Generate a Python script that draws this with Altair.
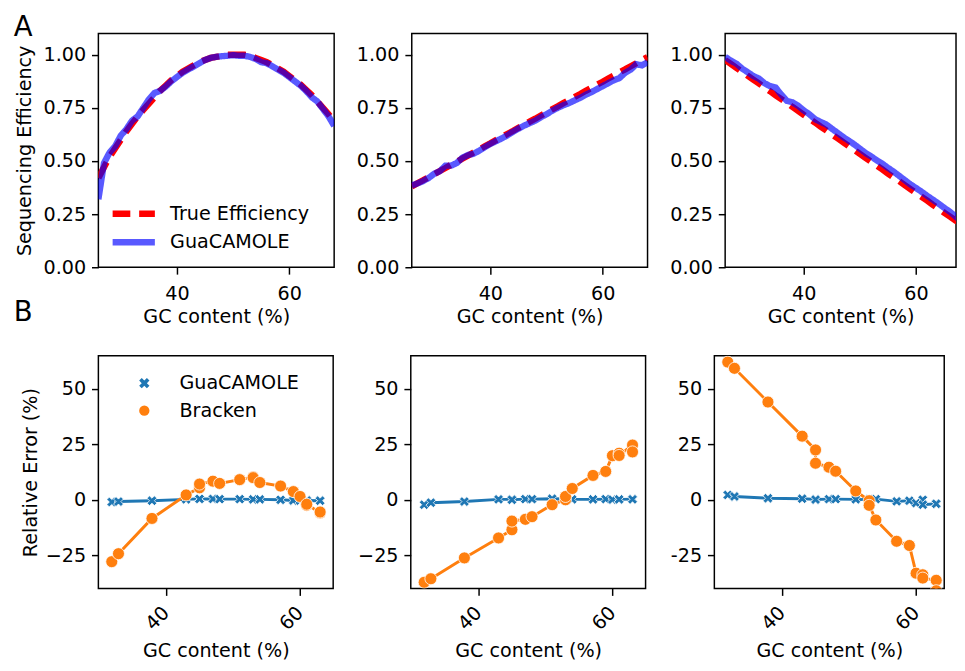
import altair as alt
import pandas as pd

FONT = "DejaVu Sans"
FS = 19.5

# ---------------- Panel A data (sequencing efficiency) ----------------
gc_top = list(range(26, 69))

true_a1 = [0.42, 0.47, 0.52, 0.56, 0.60, 0.64, 0.675, 0.71, 0.74, 0.77, 0.80, 0.83, 0.855, 0.88, 0.90,
           0.92, 0.935, 0.95, 0.965, 0.975, 0.985, 0.99, 0.995, 1.0, 1.0, 1.0, 1.0, 0.995, 0.985, 0.975,
           0.965, 0.95, 0.935, 0.92, 0.90, 0.88, 0.86, 0.835, 0.81, 0.78, 0.75, 0.72, 0.685]
guac_a1 = [0.32, 0.49, 0.54, 0.57, 0.62, 0.65, 0.69, 0.71, 0.75, 0.79, 0.82, 0.83, 0.85, 0.875, 0.895,
           0.915, 0.93, 0.945, 0.96, 0.975, 0.985, 0.99, 0.993, 0.995, 0.998, 0.995, 0.995, 0.99, 0.98, 0.965,
           0.96, 0.945, 0.93, 0.915, 0.895, 0.875, 0.855, 0.83, 0.80, 0.78, 0.745, 0.71, 0.665]

true_a2 = [0.380, 0.395, 0.409, 0.424, 0.438, 0.453, 0.467, 0.482, 0.496, 0.511, 0.525, 0.540, 0.554, 0.569,
           0.583, 0.598, 0.612, 0.627, 0.641, 0.656, 0.670, 0.685, 0.699, 0.714, 0.728, 0.743, 0.757, 0.772,
           0.786, 0.801, 0.815, 0.830, 0.844, 0.859, 0.873, 0.888, 0.902, 0.917, 0.931, 0.946, 0.960, 0.975, 0.989]
guac_a2 = [0.385, 0.394, 0.405, 0.420, 0.440, 0.452, 0.478, 0.478, 0.490, 0.515, 0.528, 0.534, 0.548, 0.565,
           0.580, 0.593, 0.606, 0.620, 0.637, 0.652, 0.666, 0.678, 0.690, 0.706, 0.720, 0.736, 0.750, 0.762,
           0.772, 0.785, 0.797, 0.812, 0.824, 0.838, 0.852, 0.866, 0.880, 0.890, 0.915, 0.930, 0.955, 0.950, 0.965]

true_a3 = [0.975, 0.957, 0.938, 0.920, 0.901, 0.883, 0.865, 0.846, 0.828, 0.809, 0.791, 0.773, 0.754, 0.736,
           0.717, 0.699, 0.681, 0.662, 0.644, 0.625, 0.607, 0.589, 0.570, 0.552, 0.533, 0.515, 0.497, 0.478,
           0.460, 0.441, 0.423, 0.405, 0.386, 0.368, 0.349, 0.331, 0.313, 0.294, 0.276, 0.257, 0.239, 0.221, 0.202]
guac_a3 = [0.990, 0.972, 0.958, 0.935, 0.918, 0.900, 0.888, 0.866, 0.852, 0.845, 0.812, 0.783, 0.776, 0.760,
           0.738, 0.720, 0.697, 0.684, 0.672, 0.652, 0.633, 0.613, 0.596, 0.578, 0.558, 0.538, 0.522, 0.503,
           0.487, 0.468, 0.450, 0.430, 0.410, 0.390, 0.373, 0.355, 0.336, 0.318, 0.300, 0.280, 0.262, 0.240, 0.218]

# ---------------- Panel B data (relative error) ----------------
gc_bot = [31.9, 32.9, 37.9, 43.0, 45.0, 45.0, 47.0, 48.0, 51.0, 53.0, 53.0, 54.0, 57.1, 59.0, 60.0, 61.0, 61.0, 63.0, 63.0]

brack_b1 = [-27.9, -24.3, -8.4, 2.2, 5.4, 7.1, 8.4, 7.4, 9.1, 10.3, 10.0, 7.8, 6.2, 3.7, 1.5, -2.5, -2.0, -5.9, -5.5]
guac_b1 = [-1.0, -0.8, -0.4, 0.2, 0.5, 0.4, 0.4, 0.3, 0.3, 0.2, 0.2, 0.2, 0.0, -0.3, -0.3, -0.4, -0.3, -0.4, -0.4]

brack_b2 = [-37.2, -35.6, -26.2, -17.2, -13.5, -9.6, -8.8, -7.6, -2.2, 0.0, 1.5, 5.1, 11.0, 12.8, 19.9, 21.0, 20.0, 24.7, 21.6]
guac_b2 = [-2.2, -1.3, -0.8, 0.2, 0.2, 0.0, 0.3, 0.3, 0.5, 0.4, 0.2, 0.2, 0.2, 0.3, 0.1, 0.2, 0.2, 0.3, 0.2]

brack_b3 = [62.1, 59.3, 44.1, 28.7, 22.5, 16.5, 14.7, 12.9, 4.0, -0.4, -2.5, -9.1, -18.7, -20.6, -33.1, -33.8, -35.3, -36.3, -41.0]
guac_b3 = [2.2, 1.5, 0.7, 0.5, 0.2, 0.1, 0.3, 0.3, 0.2, 0.0, 0.3, 0.3, -0.7, -0.4, -1.5, 0.0, -2.2, -1.8, -1.8]

SERIES_A = ["True Efficiency", "GuaCAMOLE"]
SERIES_B = ["GuaCAMOLE", "Bracken"]
COLORS_B = ["#1f77b4", "#ff7f0e"]
X_PATH = "M-1,-0.5L-0.5,-1L0,-0.5L0.5,-1L1,-0.5L0.5,0L1,0.5L0.5,1L0,0.5L-0.5,1L-1,0.5L-0.5,0Z"


def top_panel(t, g, width, domain, show_title, show_legend):
    df_t = pd.DataFrame({"gc": gc_top, "eff": t, "series": SERIES_A[0]})
    df_g = pd.DataFrame({"gc": gc_top, "eff": g, "series": SERIES_A[1]})
    xenc = alt.X("gc:Q", scale=alt.Scale(domain=domain, nice=False, zero=False),
                 axis=alt.Axis(values=[40, 60], title="GC content (%)", labelPadding=11, titlePadding=5))
    yenc = alt.Y("eff:Q", scale=alt.Scale(domain=[0, 1.1], nice=False),
                 axis=alt.Axis(values=[0, 0.25, 0.5, 0.75, 1.0], format=".2f",
                               title="Sequencing Efficiency" if show_title else None, titlePadding=9))
    if show_legend:
        leg = alt.Legend(orient="none", legendX=11, legendY=170, title=None, symbolType="stroke",
                         symbolSize=1849, symbolStrokeWidth=6.5, clipHeight=27, rowPadding=2,
                         labelOffset=12, labelFontSize=FS, labelFont=FONT, labelColor="black")
    else:
        leg = None
    color = alt.Color("series:N", scale=alt.Scale(domain=SERIES_A, range=["red", "blue"]), legend=leg)
    dash = alt.StrokeDash("series:N", scale=alt.Scale(domain=SERIES_A, range=[[18, 9], [1, 0]]), legend=leg)
    op = alt.Opacity("series:N", scale=alt.Scale(domain=SERIES_A, range=[1.0, 0.65]), legend=leg)
    red = alt.Chart(df_t).mark_line(strokeWidth=6.5, clip=True).encode(
        x=xenc, y=yenc, color=color, strokeDash=dash, opacity=op)
    blue = alt.Chart(df_g).mark_line(strokeWidth=6.5, clip=True).encode(
        x=xenc, y=yenc, color=color, strokeDash=dash, opacity=op)
    return alt.layer(red, blue).properties(width=width, height=238)


def bottom_panel(g, b, width, domain, show_title, show_legend, hyphen):
    n = len(gc_bot)
    df_g = pd.DataFrame({"gc": gc_bot, "err": g, "method": SERIES_B[0], "idx": list(range(n))})
    df_b = pd.DataFrame({"gc": gc_bot, "err": b, "method": SERIES_B[1], "idx": list(range(n))})
    xenc = alt.X("gc:Q", scale=alt.Scale(domain=domain, nice=False, zero=False),
                 axis=alt.Axis(values=[40, 60], title="GC content (%)", labelAngle=315,
                               labelAlign="center", labelBaseline="middle", labelPadding=23,
                               labelOffset=-9, titlePadding=9))
    yaxis = dict(values=[-25, 0, 25, 50], format="d",
                 title="Relative Error (%)" if show_title else None, titlePadding=5)
    if hyphen:
        yaxis["labelExpr"] = "datum.value < 0 ? '-' + abs(datum.value) : datum.label"
    yenc = alt.Y("err:Q", scale=alt.Scale(domain=[-40, 65], nice=False), axis=alt.Axis(**yaxis))
    if show_legend:
        leg = alt.Legend(orient="none", legendX=37, legendY=15, title=None, symbolSize=110,
                         clipHeight=26, rowPadding=2, labelOffset=26, labelFontSize=FS,
                         labelFont=FONT, labelColor="black", symbolStrokeWidth=0)
    else:
        leg = None
    cscale = alt.Scale(domain=SERIES_B, range=COLORS_B)
    sscale = alt.Scale(domain=SERIES_B, range=[X_PATH, "circle"])
    layers = []
    for df, col, sz in ((df_g, COLORS_B[0], 100), (df_b, COLORS_B[1], 150)):
        line = alt.Chart(df).mark_line(strokeWidth=3, clip=True, color=col).encode(
            x=xenc, y=yenc, order=alt.Order("idx:Q"))
        pts = alt.Chart(df).mark_point(filled=True, size=sz, opacity=1, stroke="white",
                                       strokeWidth=0.8, clip=True).encode(
            x=xenc, y=yenc,
            color=alt.Color("method:N", scale=cscale, legend=leg),
            shape=alt.Shape("method:N", scale=sscale, legend=leg))
        layers += [line, pts]
    return alt.layer(*layers).properties(width=width, height=237)


RES = dict(color="independent", strokeDash="independent", opacity="independent",
           shape="independent")

row1 = alt.hconcat(
    top_panel(true_a1, guac_a1, 240, [26, 68], True, True),
    top_panel(true_a2, guac_a2, 240, [26, 68], False, False),
    top_panel(true_a3, guac_a3, 235, [26, 67.13], False, False),
    spacing=20,
    title=alt.TitleParams("A", anchor="start", fontSize=28, font=FONT, fontWeight="normal",
                          color="black", offset=-9),
).resolve_scale(**RES)

row1b = alt.vconcat(
    row1,
    title=alt.TitleParams("B", orient="bottom", anchor="start", fontSize=28, font=FONT,
                          fontWeight="normal", color="black", offset=-28),
)

row2 = alt.hconcat(
    bottom_panel(guac_b1, brack_b1, 239, [29.9, 64.95], True, True, False),
    bottom_panel(guac_b2, brack_b2, 239, [29.9, 64.95], False, False, False),
    bottom_panel(guac_b3, brack_b3, 234, [29.9, 64.2], False, False, True),
    spacing=23,
).resolve_scale(**RES)

chart = alt.vconcat(row1b, row2, spacing=28).properties(
    padding={"left": 5, "top": 0, "right": 0, "bottom": 0}
).configure_axis(
    labelFont=FONT, labelFontSize=FS, titleFont=FONT, titleFontSize=FS, titleFontWeight="normal",
    labelColor="black", titleColor="black", tickColor="black", tickSize=7, tickWidth=1.5,
    domain=False, grid=False, labelPadding=6,
).configure_view(stroke="black", strokeWidth=1.5).configure_legend(
    labelFont=FONT, labelFontSize=FS
)

chart.save("out.html", embed_options={"renderer": "svg", "actions": False})
